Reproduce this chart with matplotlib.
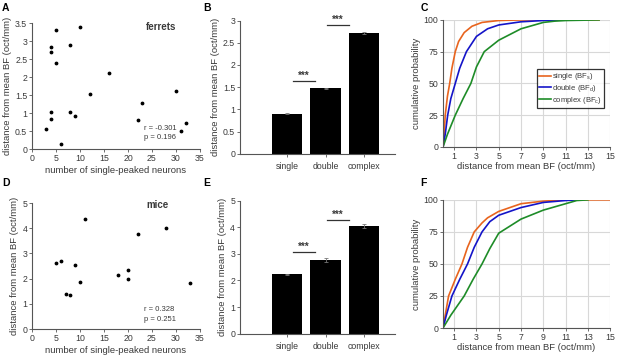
import matplotlib.pyplot as plt

plt.rcParams['font.family'] = ['Liberation Sans', 'DejaVu Sans']

# scatter data (A: ferrets, D: mice)
ferret_n = [3, 4, 4, 4, 4, 5, 5, 6, 8, 8, 9, 10, 12, 16, 22, 23, 30, 31, 32]
ferret_d = [0.55, 0.83, 1.03, 2.7, 2.83, 2.4, 3.32, 0.13, 1.03, 2.9, 0.92, 3.4, 1.52, 2.12, 0.82, 1.27, 1.6, 0.5, 0.72]
mice_n = [5, 6, 7, 8, 9, 10, 11, 18, 20, 20, 22, 28, 33]
mice_d = [2.62, 2.72, 1.4, 1.37, 2.55, 1.87, 4.38, 2.13, 2.35, 1.97, 3.78, 4.03, 1.82]

# bar data (B: ferrets, E: mice)
categories = ["single", "double", "complex"]
ferret_mean = [0.9, 1.47, 2.72]
ferret_err = [0.01, 0.01, 0.03]
mice_mean = [2.23, 2.77, 4.05]
mice_err = [0.03, 0.07, 0.07]

# cumulative distributions (C: ferrets, F: mice)
ferret_cdf = {
    "single": ([0, 0.1, 0.2, 0.4, 0.6, 0.8, 1.1, 1.4, 1.9, 2.6, 3.5, 5, 7, 14],
               [0, 10, 25, 40, 50, 62, 75, 83, 90, 95, 98, 99.5, 100, 100]),
    "double": ([0, 0.2, 0.42, 0.7, 1.1, 1.5, 2.1, 3, 4, 5, 7, 9, 10.5],
               [0, 10, 25, 38, 50, 62, 75, 87, 93, 96, 98.5, 99.5, 100]),
    "complex": ([0, 0.4, 1.1, 1.8, 2.5, 3, 3.7, 5, 7, 9, 10, 11, 14],
                [0, 10, 25, 38, 50, 63, 75, 84, 93, 98, 99, 99.5, 100]),
}
mice_cdf = {
    "single": ([0, 0.2, 0.5, 1.1, 1.7, 2.2, 2.8, 3.5, 4, 5, 7, 9, 11, 15],
               [0, 10, 25, 38, 50, 63, 75, 82, 86, 91, 97, 99, 100, 100]),
    "double": ([0, 0.3, 0.8, 1.5, 2.2, 2.8, 3.5, 4.2, 5, 7, 9, 11, 12],
               [0, 10, 25, 38, 50, 63, 75, 83, 88, 94, 98, 99.5, 100]),
    "complex": ([0, 0.7, 1.9, 2.7, 3.5, 4.2, 5, 7, 9, 11, 12, 13],
                [0, 10, 25, 38, 50, 62, 74, 85, 92, 97, 99.5, 100]),
}
cdf_colors = {"single": "#e8641e", "double": "#1414c8", "complex": "#1e8c28"}
legend_labels = {"single": "single (BF$_s$)", "double": "double (BF$_d$)",
                 "complex": "complex (BF$_c$)"}

TXT = "#3a3a3a"
plt.rcParams['text.color'] = TXT
plt.rcParams['axes.labelcolor'] = TXT
plt.rcParams['xtick.color'] = "#555555"
plt.rcParams['ytick.color'] = "#555555"
plt.rcParams['xtick.labelcolor'] = TXT
plt.rcParams['ytick.labelcolor'] = TXT
plt.rcParams['mathtext.fontset'] = 'custom'
plt.rcParams['mathtext.rm'] = 'Liberation Sans'
plt.rcParams['mathtext.it'] = 'Liberation Sans'

fig = plt.figure(figsize=(6.17, 3.55), dpi=100)

TICK = 6.3
LAB = 6.8


def style(ax):
    for s in ["top", "right"]:
        ax.spines[s].set_visible(False)
    for s in ["left", "bottom"]:
        ax.spines[s].set_color("#555555")
        ax.spines[s].set_linewidth(0.8)
    ax.tick_params(labelsize=TICK, length=2, width=0.6, pad=1.5)


def scatter_panel(rect, xs, ys, ymax, yticks, yfmt, name, rtxt, ptxt, ty, ry, py):
    ax = fig.add_axes(rect)
    ax.scatter(xs, ys, s=3, color="black", zorder=3)
    ax.set_xlim(0, 35)
    ax.set_ylim(0, ymax)
    ax.set_xticks(range(0, 36, 5))
    ax.set_yticks(yticks)
    ax.set_yticklabels([yfmt(v) for v in yticks])
    ax.set_xlabel("number of single-peaked neurons", fontsize=LAB, labelpad=2)
    ax.set_ylabel("distance from mean BF (oct/mm)", fontsize=LAB, labelpad=2)
    ax.text(23.8, ty, name, fontsize=7, fontweight="bold", va="center")
    ax.text(23.3, ry, rtxt, fontsize=5.5, va="center")
    ax.text(23.3, py, ptxt, fontsize=5.5, va="center")
    style(ax)
    return ax


def bar_panel(rect, means, errs, ymax, yticks, yfmt, sig):
    ax = fig.add_axes(rect)
    pos = list(range(len(categories)))
    ax.bar(pos, means, width=0.79, color="black", zorder=2)
    ax.errorbar(pos, means, yerr=errs, fmt="none", ecolor="#777777",
                elinewidth=0.6, capsize=1.2, capthick=0.6, zorder=3)
    ax.set_xlim(-1.22, 2.8)
    ax.set_ylim(0, ymax)
    ax.set_xticks(pos)
    ax.set_xticklabels(categories)
    ax.set_yticks(yticks)
    ax.set_yticklabels([yfmt(v) for v in yticks])
    ax.set_ylabel("distance from mean BF (oct/mm)", fontsize=LAB, labelpad=2)
    for x0, x1, y in sig:
        ax.plot([x0, x1], [y, y], color="#333333", lw=0.9)
        ax.text((x0 + x1) / 2, y, "***", ha="center", va="bottom", fontsize=7,
                fontweight="bold")
    style(ax)
    ax.tick_params(axis="x", pad=4)
    return ax


def cdf_panel(rect, cdf, legend):
    ax = fig.add_axes(rect)
    ax.set_xlim(0, 15)
    ax.set_ylim(0, 100)
    ax.set_xticks(range(1, 16, 2))
    ax.set_yticks([0, 25, 50, 75, 100])
    ax.grid(True, color="#d8d8d8", lw=0.8)
    ax.set_axisbelow(True)
    for key in ["single", "double", "complex"]:
        xs, ys = cdf[key]
        ax.plot(xs, ys, color=cdf_colors[key], lw=1.2, label=legend_labels[key])
    ax.set_xlabel("distance from mean BF (oct/mm)", fontsize=LAB, labelpad=1)
    ax.set_ylabel("cumulative probability", fontsize=LAB, labelpad=2)
    if legend:
        leg = ax.legend(loc="upper left", bbox_to_anchor=(0.56, 0.61), fontsize=5.5,
                        frameon=True, fancybox=False, borderpad=0.25,
                        handlelength=1.6, handletextpad=0.2, labelspacing=0.1,
                        borderaxespad=0)
        leg.get_frame().set_edgecolor("black")
        leg.get_frame().set_linewidth(0.9)
    style(ax)
    return ax


def g(v):
    return f"{v:g}"


scatter_panel([0.052, 0.580, 0.272, 0.355], ferret_n, ferret_d, 3.5,
              [0, 0.5, 1, 1.5, 2, 2.5, 3, 3.5], g, "ferrets",
              "r = -0.301", "p = 0.196", 3.38, 0.58, 0.32)
scatter_panel([0.052, 0.073, 0.272, 0.355], mice_n, mice_d, 5,
              [0, 1, 2, 3, 4, 5], g, "mice",
              "r = 0.328", "p = 0.251", 4.93, 0.79, 0.4)

bar_panel([0.389, 0.567, 0.251, 0.375], ferret_mean, ferret_err, 3,
          [0, 0.5, 1, 1.5, 2, 2.5, 3], g, [(0.15, 0.72, 1.64), (1.03, 1.6, 2.9)])
bar_panel([0.389, 0.060, 0.251, 0.375], mice_mean, mice_err, 5,
          [0, 1, 2, 3, 4, 5], g, [(0.15, 0.72, 3.08), (1.03, 1.6, 4.27)])

cdf_panel([0.718, 0.586, 0.271, 0.358], ferret_cdf, True)
cdf_panel([0.718, 0.076, 0.271, 0.361], mice_cdf, False)

for lab, x, y in [("A", 0.003, 0.992), ("B", 0.33, 0.992), ("C", 0.681, 0.992),
                  ("D", 0.003, 0.5), ("E", 0.33, 0.5), ("F", 0.681, 0.5)]:
    fig.text(x, y, lab, fontsize=7.5, fontweight="bold", color="black", va="top")

fig.savefig("out.png", dpi=100)
